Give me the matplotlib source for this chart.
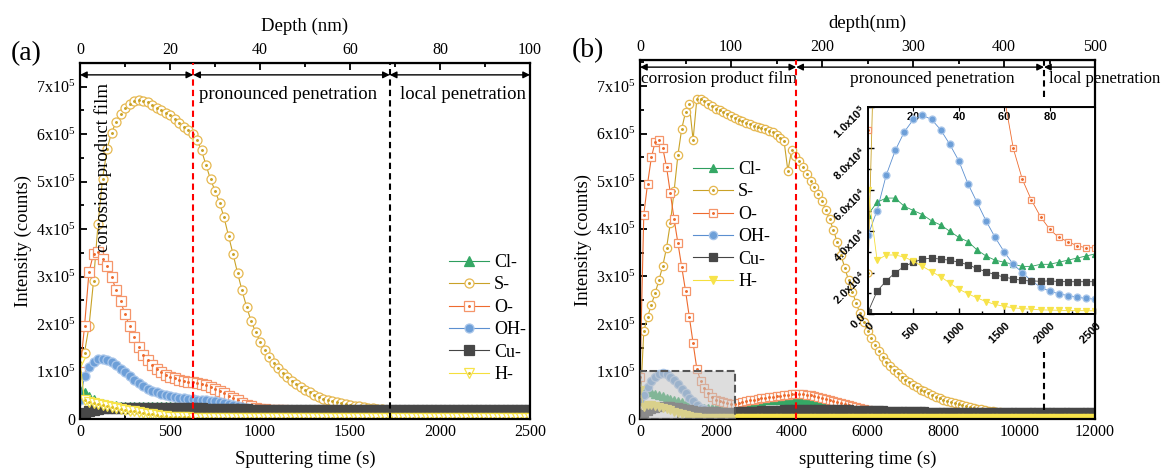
import numpy as np
import matplotlib
matplotlib.use("Agg")
import matplotlib.pyplot as plt
from matplotlib.ticker import MultipleLocator, FixedLocator, FuncFormatter
from matplotlib.patches import Rectangle
from matplotlib.legend_handler import HandlerTuple

plt.rcParams['font.family'] = ['Liberation Serif', 'DejaVu Serif']
plt.rcParams['mathtext.fontset'] = 'custom'
plt.rcParams['mathtext.rm'] = 'Liberation Serif'
plt.rcParams['mathtext.bf'] = 'Liberation Sans:bold'

# ---------------- data (values in 10^3 counts) ----------------
# panel (a): one value every 25 s, 0 .. 2500 s
TIME_A = np.arange(0, 2501, 25)
CL_A = [60, 55, 46, 39, 34, 31, 29, 28, 27, 26, 26, 25,
        25, 25, 25, 25, 25, 25, 25, 25, 25, 25, 25, 25, 25, 25, 25, 25, 25, 25, 25, 25, 25,
        24, 23, 21, 19, 15, 11, 7, 4, 2, 1, 0, 0, 0, 0, 0, 1, 3, 5, 7, 8,
        9, 9, 9, 9, 9, 9, 9, 9, 9, 9, 9, 9, 10, 10, 10, 10, 10, 10, 10, 10, 10, 10, 10, 10,
        10, 10, 10, 10, 10, 10, 10, 10, 10, 10, 10, 10, 10, 10, 10, 10, 10, 10, 10, 10, 10, 10, 10, 10]
S_A = [100, 140, 195, 290, 410, 505, 568, 603, 625, 643, 656, 664, 669, 671, 670, 667, 662,
       656, 650, 645, 640, 633, 624, 616, 608, 600, 587, 566, 535, 505, 481, 456, 425, 386,
       348, 308, 271, 237, 207, 184, 163, 146, 131, 118, 107, 97, 88, 80, 73, 67, 61, 56, 51,
       47, 43, 40, 37, 35, 33, 31, 30, 28, 27, 25, 24, 23, 22, 21, 20, 19, 18, 18, 17,
       17, 17, 16, 16, 16, 16, 16, 15, 15, 15, 15, 15, 15, 15, 15, 14, 14, 14, 14, 14, 14, 14,
       14, 14, 14, 14, 14, 14]
O_A = [100, 195, 310, 348, 352, 338, 322, 300, 272, 248, 221, 196, 172, 151, 135, 124, 114,
       105, 98, 93, 89, 86, 83, 80, 78, 77, 76, 74, 72, 68, 64, 59, 54, 49, 44, 39, 34, 30,
       27, 24, 22,
       21, 20, 19, 18, 18, 17, 17, 16, 16, 16, 15, 15, 15, 15, 14, 14, 14, 14, 14, 13,
       13, 13, 13, 13, 13, 13, 12, 12, 12, 12, 12, 12, 12, 12, 12, 12, 12, 12, 12, 12,
       12, 12, 12, 12, 12, 11, 11, 11, 11, 11, 11, 11, 11, 11, 11, 11, 11, 11, 11, 11]
OH_A = [40, 90, 110, 121, 126, 127, 125, 120, 113, 106, 98, 90, 82, 75, 69, 64, 60, 56, 53,
        50, 48, 46, 45, 44, 43, 42, 41, 40, 39, 38, 37, 36, 34, 32, 30, 28, 26, 23, 21, 19, 17,
        15, 14, 13, 12, 12, 11, 11, 10, 10, 10, 10, 9, 9, 9, 9, 9, 9, 9, 9, 8,
        8, 8, 8, 8, 8, 8, 8, 8, 8, 8, 8, 8, 8, 8, 8, 8, 8, 8, 8, 8,
        7, 7, 7, 7, 7, 7, 7, 7, 7, 7, 7, 7, 7, 7, 7, 7, 7, 7, 7, 7]
CU_A = [5, 12, 17, 20, 22, 23, 24,
        24, 24, 24, 24, 24, 24, 24, 24, 24, 24, 24, 24, 24, 24, 24, 24, 24, 24,
        23, 23, 23, 22, 22, 22, 22, 22, 21, 21, 21, 21, 21, 20, 20, 20,
        20, 20, 20, 20, 20, 20, 20, 20, 20, 20, 19, 19, 19, 19, 19, 19, 19, 19, 19, 19,
        19, 19, 19, 19, 19, 19, 19, 19, 19, 19, 18, 18, 18, 18, 18, 18, 18, 18, 18, 18,
        18, 18, 18, 18, 18, 18, 18, 18, 18, 18, 18, 18, 18, 18, 18, 18, 18, 18, 18, 18]
H_A = [120, 40, 36, 33, 31, 29, 27, 25, 23, 21, 19, 17, 16, 14, 13, 11, 10, 8, 7, 6, 5,
       4, 4, 4, 4] + [3] * 76

# panel (b): one value every 100 s, 0 .. 12000 s
TIME_B = np.arange(0, 12001, 100)
CL_B = [48, 54, 56, 56, 52, 50, 48, 45, 43, 40, 37, 35, 31, 28, 26, 25, 24, 23, 23, 24, 24, 25,
        26, 27, 28, 29,
        30, 32, 34, 35, 36, 37, 38, 39, 39, 40,
        40, 41, 41, 41, 41, 41, 40, 40, 39, 38,
        37, 36, 35, 33, 32, 30, 29, 27, 25, 23,
        22, 20, 19, 18, 17, 16, 15, 14, 13, 12,
        11, 11, 10, 10, 10, 9, 9, 9, 9, 9] + [8] * 45
S_B = [20, 185, 215, 240, 265, 292, 322, 360, 412, 480, 555, 610, 645, 662, 587, 674, 672, 668,
       663, 658, 653, 649, 645, 641, 637, 633,
       629, 626, 623, 620, 617, 614, 611, 609, 606, 603,
       598, 592, 584, 522, 566, 554, 542, 529, 515, 500,
       487, 473, 458, 440, 420, 398, 372, 345, 318, 292,
       267, 244, 222, 203, 186, 170, 156, 143, 131, 120,
       111, 103, 96, 89, 83, 77, 72, 67, 62, 58,
       54, 50, 47, 44, 41, 38, 35, 33, 31, 29,
       27, 25, 23, 22, 20, 19, 17, 16, 15, 14,
       13, 12, 11, 10.5, 10, 9.5, 9, 8.5, 8, 8] + [7] * 15
O_B = [89, 430, 495, 550, 583, 586, 570, 530, 475, 420, 370, 320, 270, 215, 160, 105, 80, 65,
       55, 47, 41, 37, 35, 33, 32, 32,
       33, 35, 37, 39, 41, 43, 44, 45, 46, 47,
       48, 49, 50, 51, 52, 52, 52, 52, 51, 50,
       49, 47, 45, 43, 41, 38, 36, 33, 31, 29,
       27, 25, 23, 21, 19, 17, 16, 15, 14, 13,
       12, 11, 11, 10, 10, 10, 9, 9, 9, 9] + [8] * 45
OH_B = [38, 50, 67, 79, 88, 94, 96, 94, 89, 82, 74, 63, 54, 45, 37, 30, 24, 20, 16, 13, 11,
        9.8, 8.9, 8.2, 7.5, 7.2,
        7, 7, 7.5, 8, 8.5, 9, 9.5, 10, 10.5, 11,
        11.5, 12, 12, 12.5, 12.5, 13, 13, 13, 13, 13,
        13, 12.5, 12.5, 12, 12, 11.5, 11, 10.5, 10, 9.5,
        9, 8.5, 8, 8, 7.5, 7, 7, 6.5, 6.5, 6] + [6] * 10 + [5.5] * 10 + [5] * 35
CU_B = [1, 11, 16, 20, 23, 25, 26.5, 27, 26.5, 26, 25, 23.8, 22, 20.4, 19, 17.8, 17, 16.2, 16,
        15.8, 16, 15.7, 15.6, 15.6, 15.6, 15.6,
        16, 16, 16.5, 17, 17, 17.5, 18, 18, 18.5, 19,
        19, 19.5, 20, 20, 20.5, 21, 21, 21, 21, 21,
        21, 21, 21, 21, 21, 20.5, 20.5, 20, 20, 20,
        19.5, 19.5, 19, 19, 18.5, 18.5, 18, 18, 18, 17.5,
        17.5, 17, 17, 17, 16.5, 16.5, 16.5, 16, 16, 16] + [15.5] * 15 + [15] * 15 + [14.5] * 15
H_B = [60, 26, 28.5, 28.5, 27.5, 25.5, 23, 20.5, 18, 15, 12, 9.8, 7.8, 6, 4.6, 3.7, 3, 2.6,
       2.3, 2, 1.9, 1.8, 1.7, 1.6, 1.6, 1.5] + [1.5] * 95

LABELS = ["Cl-", "S-", "O-", "OH-", "Cu-", "H-"]
DEPTH_TICKS_A = [0, 20, 40, 60, 80, 100]
DEPTH_TICKS_B = [0, 100, 200, 300, 400, 500]
RED_A, BLACK_A = 629, 1721          # region borders (s)
RED_B, BLACK_B = 4120, 10655

# line colour, marker, face, edge, centre dot
STYLES = {
    "Cl-": ("#2e9e5e", "^", "#35a865", "#35a865", None),
    "S-": ("#c9a227", "o", "white", "#e6b850", "#c9a227"),
    "O-": ("#ee6b2f", "s", "white", "#f5956a", "#ee6b2f"),
    "OH-": ("#5b8fd0", "o", "#6d9fd8", "#a9c6ea", None),
    "Cu-": ("#454545", "s", "#474747", "#474747", None),
    "H-": ("#f5df3c", "v", "#f7e34a", "#f7e34a", None),
}


def draw(ax, t, vals, name, ms, lw=0.8, open_h=False):
    col, mk, fc, ec, dot = STYLES[name]
    if name == "H-" and open_h:
        fc, dot = "white", "#e0c020"
    y = np.asarray(vals, dtype=float) * 1e3
    ln, = ax.plot(t, y, color=col, lw=lw, marker=mk, ms=ms, mfc=fc, mec=ec, mew=0.9)
    if dot is None:
        return ln
    d, = ax.plot(t, y, ls="none", marker="o", ms=1.1, color=dot)
    return (ln, d)


def main_ticks(ax):
    ax.tick_params(which="both", direction="in", labelsize=11.5, width=1.3)
    ax.tick_params(which="major", length=5)
    ax.tick_params(which="minor", length=3)
    ax.tick_params(axis="y", right=False)
    ax.tick_params(axis="x", top=False)
    for s in ax.spines.values():
        s.set_linewidth(1.6)
    ax.yaxis.set_major_locator(MultipleLocator(1e5))
    ax.yaxis.set_minor_locator(MultipleLocator(0.5e5))
    ax.yaxis.set_major_formatter(FuncFormatter(
        lambda v, p: "0" if abs(v) < 1 else r"$\mathregular{%dx10^{5}}$" % round(v / 1e5)))


def depth_axis(ax, scale, ticks, minor, label):
    sec = ax.secondary_xaxis("top", functions=(lambda t: t / scale, lambda d: d * scale))
    sec.xaxis.set_major_locator(FixedLocator(ticks))
    sec.xaxis.set_minor_locator(FixedLocator(minor))
    sec.tick_params(which="both", direction="in", labelsize=11.5, width=1.3)
    sec.tick_params(which="major", length=5)
    sec.tick_params(which="minor", length=3)
    sec.set_xlabel(label, fontsize=13.5, labelpad=8)
    return sec


def arrow(ax, x0, x1, y, both=True):
    ax.annotate("", xy=(x1, y), xytext=(x0, y),
                arrowprops=dict(arrowstyle="<|-|>" if both else "-|>", color="black",
                                lw=1.0, shrinkA=0, shrinkB=0, mutation_scale=10),
                zorder=6, annotation_clip=False)


fig = plt.figure(figsize=(11.64, 4.70), dpi=100)

# ---------------- panel (a) ----------------
ax = fig.add_axes([80 / 1164, 51 / 470, 450 / 1164, 356 / 470])
series_a = [CL_A, S_A, O_A, OH_A, CU_A, H_A]
handles_a = [draw(ax, TIME_A, v, n, 6.5, open_h=True) for v, n in zip(series_a, LABELS)]
ax.set_xlim(0, 2500)
ax.set_ylim(0, 7.5e5)
main_ticks(ax)
ax.xaxis.set_major_locator(MultipleLocator(500))
ax.xaxis.set_minor_locator(MultipleLocator(250))
ax.set_xlabel("Sputtering time (s)", fontsize=13.5, labelpad=8)
ax.set_ylabel("Intensity (counts)", fontsize=13.5, labelpad=3)
ax.axvline(RED_A, color="red", ls="--", lw=1.5, dashes=(3, 2), zorder=5)
ax.axvline(BLACK_A, color="black", ls="--", lw=1.5, dashes=(3, 2), zorder=5)
ya = 7.25e5
arrow(ax, 0, RED_A, ya)
arrow(ax, RED_A, BLACK_A, ya)
arrow(ax, BLACK_A, 2500, ya)
ax.text(128, 5.3e5, "corrosion product film", rotation=90, fontsize=13.5,
        ha="center", va="center")
ax.text(1158, 6.83e5, "pronounced penetration", fontsize=13.5, ha="center", va="center")
ax.text(2127, 6.83e5, "local penetration", fontsize=13.5, ha="center", va="center")
depth_axis(ax, 25, DEPTH_TICKS_A, [10, 30, 50, 70, 90], "Depth (nm)")
ax.legend(handles_a, LABELS, handler_map={tuple: HandlerTuple(ndivide=1)},
          loc="upper left", bbox_to_anchor=(440 / 1164, (470 - 245) / 470),
          bbox_transform=fig.transFigure, frameon=False, fontsize=13,
          handlelength=2.2, handletextpad=0.3, labelspacing=0.3, borderpad=0)
fig.text(0.009, 0.885, "(a)", fontsize=20, va="center")

# ---------------- panel (b) ----------------
bx = fig.add_axes([640 / 1164, 51 / 470, 455 / 1164, 359 / 470])
series_b = [CL_B, S_B, O_B, OH_B, CU_B, H_B]
handles_b = [draw(bx, TIME_B, v, n, 6) for v, n in zip(series_b, LABELS)]
bx.set_xlim(0, 12000)
bx.set_ylim(0, 7.55e5)
main_ticks(bx)
bx.xaxis.set_major_locator(MultipleLocator(2000))
bx.xaxis.set_minor_locator(MultipleLocator(1000))
bx.set_xlabel("sputtering time (s)", fontsize=13.5, labelpad=8)
bx.set_ylabel("Intensity (counts)", fontsize=13.5, labelpad=3)
bx.add_patch(Rectangle((0, 0), 2500, 1e5, fc=(0.76, 0.76, 0.76, 0.55), ec="#555555",
                       ls="--", lw=1.5, zorder=5))
bx.axvline(RED_B, color="red", ls="--", lw=1.5, dashes=(3, 2), zorder=5)
bx.axvline(BLACK_B, ymin=0.897, ymax=1, color="black", lw=1.5, ls="--", dashes=(3, 2), zorder=5)
bx.axvline(BLACK_B, ymin=0.025, ymax=0.187, color="black", lw=1.5, ls="--", dashes=(3, 2), zorder=5)
yb = 7.40e5
arrow(bx, 0, RED_B, yb)
arrow(bx, RED_B, BLACK_B, yb)
arrow(bx, 12000, BLACK_B, yb, both=False)
bx.text(30, 7.15e5, "corrosion product film", fontsize=12.5, ha="left", va="center")
bx.text(7700, 7.15e5, "pronounced penetration", fontsize=12.5, ha="center", va="center")
bx.text(10790, 7.15e5, "local penetration", fontsize=12, ha="left", va="center",
        clip_on=False)
depth_axis(bx, 24, DEPTH_TICKS_B, [50, 150, 250, 350, 450], "depth(nm)")
bx.legend(handles_b, LABELS, handler_map={tuple: HandlerTuple(ndivide=1)},
          loc="upper left", bbox_to_anchor=(684 / 1164, (470 - 152) / 470),
          bbox_transform=fig.transFigure, frameon=False, fontsize=13,
          handlelength=2.2, handletextpad=0.3, labelspacing=0.3, borderpad=0)
fig.text(0.491, 0.893, "(b)", fontsize=20, va="center")

# ---------------- inset ----------------
ix = fig.add_axes([868 / 1164, 156 / 470, 227 / 1164, 207 / 470])
ix.set_facecolor("white")
for v, n in zip(series_b, LABELS):
    draw(ix, TIME_B, v, n, 5, lw=0.6)
ix.set_xlim(0, 2500)
ix.set_ylim(0, 1e5)
for s in ix.spines.values():
    s.set_linewidth(1.4)
ix.xaxis.set_major_locator(FixedLocator([0, 500, 1000, 1500, 2000, 2500]))
ix.xaxis.set_minor_locator(MultipleLocator(250))
ix.yaxis.set_major_locator(FixedLocator([0, 2e4, 4e4, 6e4, 8e4, 1e5]))
ix.yaxis.set_minor_locator(MultipleLocator(1e4))
ix.xaxis.set_major_formatter(FuncFormatter(lambda v, p: r"$\mathbf{%d}$" % v))
ix.yaxis.set_major_formatter(FuncFormatter(
    lambda v, p: r"$\mathbf{0.0}$" if v < 1 else
    r"$\mathbf{%.1fx10^{%d}}$" % (v / 10 ** int(np.floor(np.log10(v))), int(np.floor(np.log10(v))))))
ix.tick_params(which="both", direction="in", labelsize=8, width=1.0, top=False, right=False)
ix.tick_params(which="major", length=4)
ix.tick_params(which="minor", length=2)
for lbl in ix.get_xticklabels():
    lbl.set_rotation(45)
    lbl.set_ha("right")
    lbl.set_rotation_mode("anchor")
for lbl in ix.get_yticklabels():
    lbl.set_rotation(45)
    lbl.set_ha("right")
    lbl.set_rotation_mode("anchor")
itop = ix.secondary_xaxis("top", functions=(lambda t: t / 25, lambda d: d * 25))
itop.xaxis.set_major_locator(FixedLocator([20, 40, 60, 80]))
itop.xaxis.set_major_formatter(FuncFormatter(lambda v, p: r"$\mathbf{%d}$" % v))
itop.tick_params(direction="in", length=3, labelsize=8, pad=-11)

fig.savefig("out.png", dpi=100)
